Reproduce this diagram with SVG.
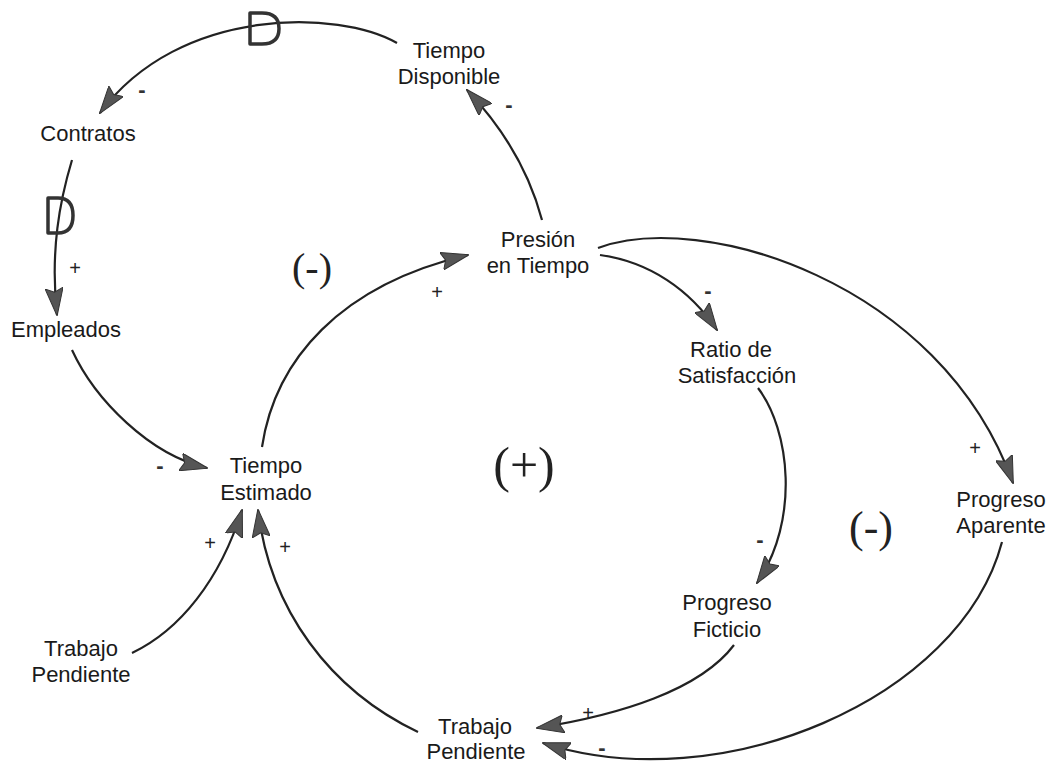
<svg xmlns="http://www.w3.org/2000/svg" width="1060" height="763" viewBox="0 0 1060 763">
<defs>
<style>
.lbl{font-family:"Liberation Sans",Arial,sans-serif;font-size:22px;fill:#1a1a1a;text-anchor:middle}
.plus{font-family:"Liberation Sans",Arial,sans-serif;font-size:20px;fill:#222;text-anchor:middle}
.minus{font-family:"Liberation Sans",Arial,sans-serif;font-size:22px;font-weight:bold;fill:#333;text-anchor:middle}
.loop{font-family:"Liberation Serif","Times New Roman",serif;fill:#222;text-anchor:middle}
.c{fill:none;stroke:#222;stroke-width:2.2;marker-end:url(#ah)}
.delay{fill:none;stroke:#333;stroke-width:3.5;stroke-linejoin:round}
</style>
<marker id="ah" viewBox="0 0 28 18" refX="27" refY="9" markerWidth="28" markerHeight="18" markerUnits="userSpaceOnUse" orient="auto">
<path d="M0,0 L28,9 L0,18 L4,9 Z" fill="#555" stroke="#333" stroke-width="1"/>
</marker>
</defs>
<rect width="1060" height="763" fill="#ffffff"/>

<g id="connectors">
<path class="c" d="M397,43 C340,10 180,5 100,113"/>
<path class="c" d="M72,160 C60,200 50,250 57,315"/>
<path class="c" d="M72,350 C95,400 150,455 207,468"/>
<path class="c" d="M262,447 C275,360 340,285 468,255"/>
<path class="c" d="M542,220 C530,175 505,130 467,90"/>
<path class="c" d="M600,255 C650,262 690,290 717,330"/>
<path class="c" d="M598,248 C700,210 940,280 1013,483"/>
<path class="c" d="M758,388 C790,430 800,520 757,583"/>
<path class="c" d="M734,645 C700,690 620,715 537,728"/>
<path class="c" d="M1002,542 C960,700 720,800 543,743"/>
<path class="c" d="M132,653 C180,630 220,580 242,510"/>
<path class="c" d="M418,732 C330,690 270,610 258,510"/>
<path class="delay" d="M250,13 H262 Q279,13 279,28.5 Q279,44 262,44 H250 Z"/>
<path class="delay" d="M48,198 H58 Q73,198 73,215.5 Q73,233 58,233 H48 Z"/>
</g>

<g id="polarities">
<text class="minus" x="142" y="97">-</text>
<text class="minus" x="509" y="112">-</text>
<text class="plus" x="75" y="275">+</text>
<text class="plus" x="437" y="299">+</text>
<text class="minus" x="708" y="298">-</text>
<text class="minus" x="160" y="473">-</text>
<text class="plus" x="210" y="550">+</text>
<text class="plus" x="285" y="554">+</text>
<text class="plus" x="975" y="455">+</text>
<text class="minus" x="760" y="547">-</text>
<text class="plus" x="588" y="720">+</text>
<text class="minus" x="602" y="755">-</text>
</g>

<g id="loops">
<text class="loop" x="312" y="281" font-size="40">(-)</text>
<text class="loop" x="524" y="482" font-size="50">(+)</text>
<text class="loop" x="871" y="542" font-size="44">(-)</text>
</g>

<g id="node-tiempo-disponible"><text class="lbl" x="449" y="58">Tiempo</text><text class="lbl" x="449" y="84">Disponible</text></g>
<g id="node-contratos"><text class="lbl" x="88" y="141">Contratos</text></g>
<g id="node-empleados"><text class="lbl" x="66" y="337">Empleados</text></g>
<g id="node-presion"><text class="lbl" x="538" y="247">Presión</text><text class="lbl" x="538" y="273">en Tiempo</text></g>
<g id="node-ratio"><text class="lbl" x="731" y="357">Ratio de</text><text class="lbl" x="737" y="383">Satisfacción</text></g>
<g id="node-tiempo-estimado"><text class="lbl" x="266" y="473">Tiempo</text><text class="lbl" x="266" y="500">Estimado</text></g>
<g id="node-progreso-aparente"><text class="lbl" x="1001" y="507">Progreso</text><text class="lbl" x="1001" y="533">Aparente</text></g>
<g id="node-progreso-ficticio"><text class="lbl" x="727" y="610">Progreso</text><text class="lbl" x="727" y="637">Ficticio</text></g>
<g id="node-trabajo-pendiente-1"><text class="lbl" x="81" y="656">Trabajo</text><text class="lbl" x="81" y="682">Pendiente</text></g>
<g id="node-trabajo-pendiente-2"><text class="lbl" x="475" y="734">Trabajo</text><text class="lbl" x="476" y="759">Pendiente</text></g>
</svg>
